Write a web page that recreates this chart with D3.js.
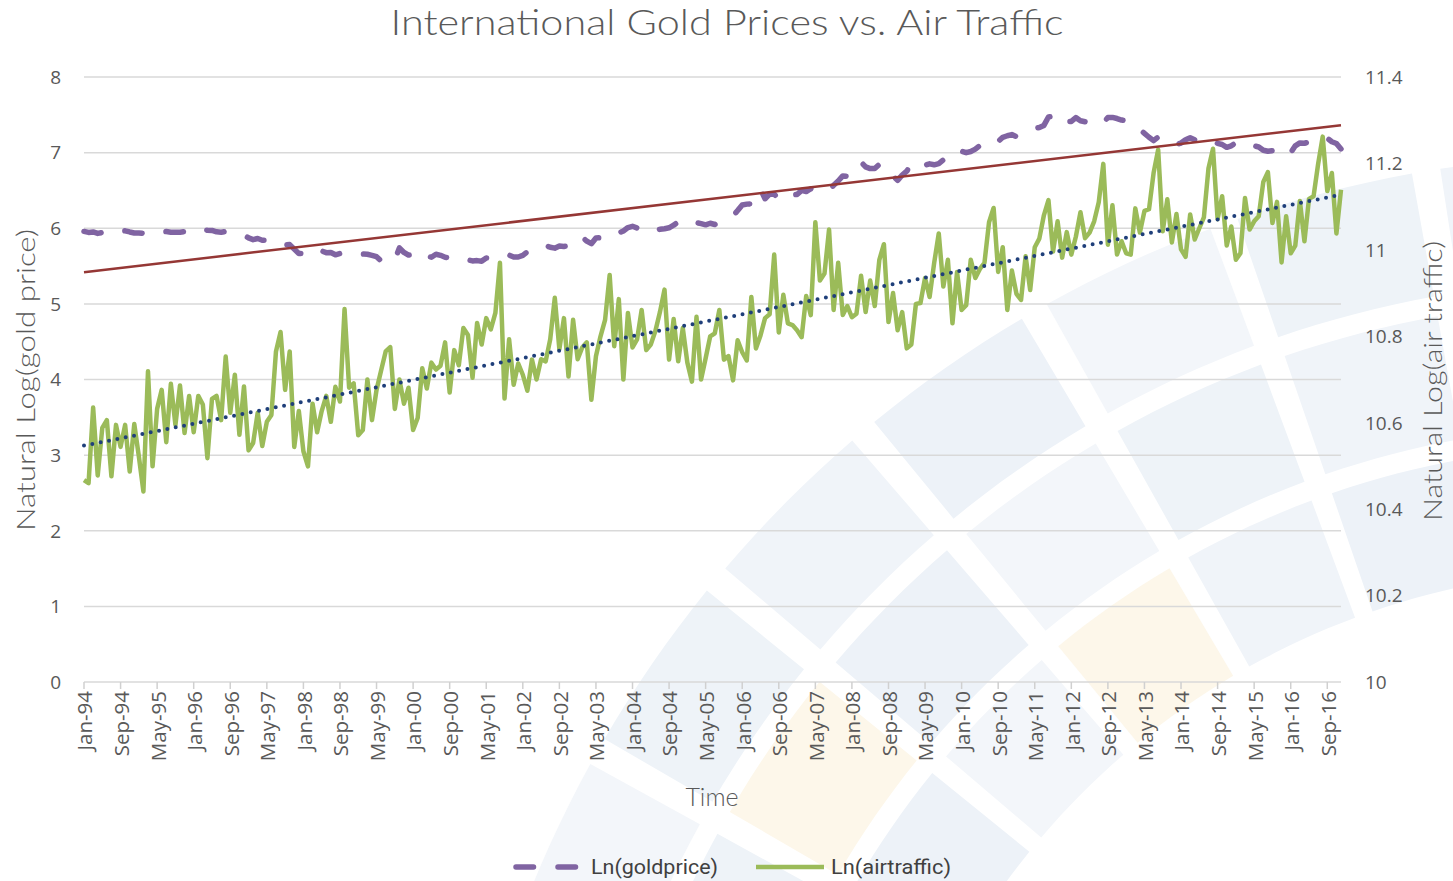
<!DOCTYPE html>
<html><head><meta charset="utf-8">
<script src="https://cdn.jsdelivr.net/npm/d3@7"></script>
<style>body{margin:0;background:#fff} svg{display:block}</style>
</head><body>
<svg id="c" width="1453" height="881"></svg>
<script>
// ---- data ----
const startYear = 1994;
const goldLn = [
5.958,5.945,5.951,5.932,5.943,5.956,5.953,5.940,5.969,5.966,5.951,5.938,
5.938,5.932,5.945,5.969,5.953,5.958,5.956,5.948,5.948,5.948,5.956,5.958,
5.991,6.004,5.981,5.974,5.971,5.953,5.948,5.958,5.948,5.943,5.935,5.911,
5.872,5.849,5.864,5.841,5.841,5.832,5.781,5.781,5.778,5.784,5.724,5.666,
5.666,5.694,5.690,5.733,5.700,5.677,5.680,5.649,5.666,5.690,5.684,5.673,
5.659,5.659,5.656,5.642,5.624,5.568,5.545,5.549,5.580,5.740,5.680,5.645,
5.652,5.704,5.656,5.635,5.617,5.656,5.642,5.617,5.609,5.598,5.583,5.606,
5.583,5.568,5.572,5.565,5.606,5.598,5.591,5.609,5.645,5.645,5.620,5.620,
5.642,5.690,5.684,5.710,5.749,5.771,5.749,5.737,5.765,5.759,5.765,5.808,
5.878,5.883,5.829,5.796,5.872,5.875,5.861,5.886,5.938,5.938,5.964,6.009,
6.026,6.004,6.006,6.001,5.951,5.971,5.986,5.994,6.006,6.040,6.084,6.091,
6.050,6.047,6.073,6.061,6.045,6.066,6.050,6.082,6.125,6.153,6.165,6.234,
6.308,6.319,6.323,6.413,6.516,6.390,6.452,6.449,6.395,6.373,6.443,6.444,
6.447,6.500,6.485,6.522,6.504,6.485,6.500,6.500,6.569,6.625,6.692,6.688,
6.790,6.827,6.875,6.812,6.789,6.790,6.845,6.732,6.721,6.692,6.633,6.704,
6.755,6.849,6.829,6.791,6.833,6.852,6.839,6.855,6.904,6.950,7.027,7.034,
7.019,6.999,7.015,7.046,7.094,7.116,7.084,7.102,7.148,7.203,7.223,7.238,
7.212,7.224,7.261,7.295,7.320,7.332,7.360,7.471,7.480,7.418,7.461,7.410,
7.412,7.463,7.422,7.409,7.368,7.375,7.374,7.394,7.464,7.466,7.451,7.431,
7.421,7.394,7.373,7.304,7.254,7.203,7.159,7.206,7.207,7.182,7.151,7.107,
7.126,7.170,7.197,7.169,7.160,7.154,7.179,7.167,7.122,7.108,7.070,7.090,
7.132,7.112,7.072,7.088,7.089,7.075,7.031,7.018,7.026,7.055,6.990,6.974,
7.000,7.090,7.128,7.124,7.139,7.151,7.198,7.201,7.190,7.144,7.121,7.049
];
const airLn = [
10.467,10.460,10.635,10.478,10.588,10.606,10.476,10.595,10.544,10.595,10.487,10.597,
10.522,10.441,10.719,10.499,10.632,10.676,10.555,10.690,10.595,10.686,10.576,10.662,
10.578,10.662,10.642,10.518,10.655,10.662,10.606,10.753,10.623,10.711,10.572,10.684,
10.536,10.553,10.623,10.546,10.602,10.618,10.765,10.810,10.676,10.765,10.544,10.627,
10.534,10.499,10.644,10.578,10.627,10.662,10.602,10.683,10.649,10.863,10.681,10.691,
10.571,10.583,10.700,10.606,10.676,10.721,10.765,10.775,10.632,10.700,10.644,10.681,
10.583,10.611,10.726,10.679,10.739,10.723,10.732,10.786,10.670,10.768,10.733,10.819,
10.803,10.704,10.831,10.781,10.842,10.816,10.854,10.970,10.656,10.793,10.688,10.737,
10.711,10.674,10.746,10.700,10.747,10.742,10.793,10.889,10.770,10.842,10.707,10.838,
10.747,10.774,10.786,10.653,10.754,10.800,10.838,10.942,10.777,10.886,10.700,10.854,
10.774,10.793,10.861,10.768,10.781,10.812,10.856,10.908,10.746,10.840,10.742,10.819,
10.739,10.695,10.845,10.700,10.749,10.800,10.807,10.861,10.746,10.754,10.698,10.791,
10.763,10.744,10.891,10.772,10.802,10.842,10.851,10.989,10.809,10.896,10.830,10.826,
10.814,10.798,10.893,10.849,11.064,10.929,10.945,11.047,10.861,10.970,10.849,10.870,
10.844,10.852,10.940,10.856,10.929,10.870,10.977,11.013,10.833,10.900,10.814,10.856,
10.772,10.781,10.875,10.877,10.935,10.891,10.970,11.038,10.915,10.977,10.830,10.949,
10.861,10.872,10.977,10.935,10.956,10.970,11.064,11.097,10.949,11.006,10.861,10.952,
10.898,10.884,10.985,10.907,11.006,11.026,11.080,11.115,10.996,11.066,10.982,11.041,
10.989,11.031,11.087,11.027,11.040,11.066,11.110,11.199,11.012,11.103,10.989,11.020,
10.992,10.989,11.096,11.040,11.090,11.094,11.178,11.232,11.043,11.117,11.017,11.083,
11.001,10.984,11.082,11.024,11.050,11.075,11.188,11.234,11.071,11.124,11.010,11.054,
10.977,10.992,11.120,11.047,11.066,11.078,11.157,11.180,11.062,11.111,10.971,11.078,
10.992,11.010,11.113,11.020,11.118,11.124,11.199,11.262,11.136,11.178,11.038,11.139
];
const xTickLabels = ["Jan-94","Sep-94","May-95","Jan-96","Sep-96","May-97","Jan-98","Sep-98","May-99",
"Jan-00","Sep-00","May-01","Jan-02","Sep-02","May-03","Jan-04","Sep-04","May-05","Jan-06","Sep-06",
"May-07","Jan-08","Sep-08","May-09","Jan-10","Sep-10","May-11","Jan-12","Sep-12","May-13","Jan-14",
"Sep-14","May-15","Jan-16","Sep-16"];
const tickEvery = 8;
const leftTicks = [0,1,2,3,4,5,6,7,8];
const rightTicks = [10,10.2,10.4,10.6,10.8,11,11.2,11.4];
const seriesNames = ["Ln(goldprice)","Ln(airtraffic)"];
const titleText = "International Gold Prices vs. Air Traffic";
const leftTitle = "Natural Log(gold price)";
const rightTitle = "Natural Log(air traffic)";
const xTitle = "Time";

// ---- layout ----
const L = 84, R = 1341, T = 77, B = 682;
const svg = d3.select("#c");
const months = d3.timeMonth.range(new Date(startYear,0,1), new Date(startYear,goldLn.length,1));
const idx = months.map((d,i)=>i);

const x = d3.scaleLinear().domain([0, months.length-1]).range([L, R]);
const yL = d3.scaleLinear().domain([0,8]).range([B, T]);
const yR = d3.scaleLinear().domain([10,11.4]).range([B, T]);

// ---- watermark (decorative background) ----
const wm = svg.append("g");
const cx0 = 1620, cy0 = 1330;
const rings = [[760,885],[905,1030],[1050,1175]];
const a0 = 200, aStep = 10.2, aW = 8.8, nA = 7;
const fills = ["#f0f4f9","#edf2f8","#f3f6fa","#eef3f8"];
const yellow = "#fdf7ea";
rings.forEach((rg, ri) => {
  for (let k = 0; k < nA; k++) {
    const aa = (a0 + k*aStep) * Math.PI/180, ab = (a0 + k*aStep + aW) * Math.PI/180;
    const pts = [];
    const steps = 8;
    for (let s=0;s<=steps;s++){const a=aa+(ab-aa)*s/steps; pts.push([cx0+rg[0]*Math.cos(a), cy0+rg[0]*Math.sin(a)]);}
    for (let s=steps;s>=0;s--){const a=aa+(ab-aa)*s/steps; pts.push([cx0+rg[1]*Math.cos(a), cy0+rg[1]*Math.sin(a)]);}
    const isY = (ri===1 && k===1) || (ri===0 && k===3) || (ri===1 && k===6);
    wm.append("path").attr("d", d3.line()(pts)+"Z")
      .attr("fill", isY ? yellow : fills[(ri*3+k)%4]);
  }
});

// ---- gridlines ----
svg.append("g").selectAll("line").data(leftTicks).join("line")
  .attr("x1", L).attr("x2", R)
  .attr("y1", d=>yL(d)).attr("y2", d=>yL(d))
  .attr("stroke", "#d9d9d9").attr("stroke-width", 1.5);

// ---- x axis ticks ----
const xt = svg.append("g");
xTickLabels.forEach((lab,i)=>{
  const xi = x(i*tickEvery);
  xt.append("line").attr("x1",xi).attr("x2",xi).attr("y1",B).attr("y2",B+7)
    .attr("stroke","#d0d0d0").attr("stroke-width",1.5);
  xt.append("text").attr("transform",`translate(${xi+1},${B+9}) rotate(-90)`)
    .attr("text-anchor","end").attr("dy","0.36em")
    .attr("font-family","'Open Sans', sans-serif").attr("font-size",20.5)
    .attr("fill","#595959").text(lab);
});

// ---- y tick labels ----
svg.append("g").selectAll("text").data(leftTicks).join("text")
  .attr("x", 61).attr("y", d=>yL(d)).attr("dy","0.36em").attr("text-anchor","end")
  .attr("font-family","'Open Sans', sans-serif").attr("font-size",19).attr("fill","#595959")
  .text(d=>d);
svg.append("g").selectAll("text").data(rightTicks).join("text")
  .attr("x", 1365).attr("y", d=>yR(d)).attr("dy","0.36em").attr("text-anchor","start")
  .attr("font-family","'Open Sans', sans-serif").attr("font-size",19).attr("fill","#595959")
  .text(d=>d3.format("~g")(d));

// ---- trend lines (least squares) ----
function fit(vals){
  const mx = d3.mean(idx), my = d3.mean(vals);
  let sxy=0,sxx=0; vals.forEach((v,i)=>{sxy+=(i-mx)*(v-my); sxx+=(i-mx)*(i-mx);});
  const b = sxy/sxx, a = my - b*mx;
  return i => a + b*i;
}
const gFit = fit(goldLn), aFit = fit(airLn);

// ---- series ----
const lineG = d3.line().x((d,i)=>x(i)).y(d=>yL(d));
const lineA = d3.line().x((d,i)=>x(i)).y(d=>yR(d));

svg.append("path").datum(airLn).attr("d", lineA).attr("fill","none")
  .attr("stroke","#9bbb59").attr("stroke-width",4.5).attr("stroke-linejoin","round");

svg.append("path").datum(goldLn).attr("d", lineG).attr("fill","none")
  .attr("stroke","#8064a2").attr("stroke-width",5.5).attr("stroke-linecap","round")
  .attr("stroke-linejoin","round").attr("stroke-dasharray","17.5 24.5");

svg.append("line").attr("x1",x(0)).attr("x2",x(idx.length-1))
  .attr("y1",yL(gFit(0))).attr("y2",yL(gFit(idx.length-1)))
  .attr("stroke","#953735").attr("stroke-width",2.5);

svg.append("line").attr("x1",x(0)).attr("x2",x(idx.length-1))
  .attr("y1",yR(aFit(0))).attr("y2",yR(aFit(idx.length-1)))
  .attr("stroke","#1f3f7a").attr("stroke-width",4).attr("stroke-linecap","round")
  .attr("stroke-dasharray","0 8.5");

// ---- titles ----
svg.append("text").attr("x",727).attr("y",35).attr("text-anchor","middle")
  .attr("font-family","Lato, 'Open Sans', sans-serif").attr("font-weight",300).attr("font-size",35)
  .attr("fill","#595959").attr("textLength",673).attr("lengthAdjust","spacingAndGlyphs").text(titleText);
svg.append("text").attr("transform","translate(35,380) rotate(-90)").attr("text-anchor","middle")
  .attr("font-family","Lato, 'Open Sans', sans-serif").attr("font-weight",300).attr("font-size",25)
  .attr("fill","#595959").attr("textLength",302).attr("lengthAdjust","spacingAndGlyphs").text(leftTitle);
svg.append("text").attr("transform","translate(1442,381) rotate(-90)").attr("text-anchor","middle")
  .attr("font-family","Lato, 'Open Sans', sans-serif").attr("font-weight",300).attr("font-size",25)
  .attr("fill","#595959").attr("textLength",280).attr("lengthAdjust","spacingAndGlyphs").text(rightTitle);
svg.append("text").attr("x",712).attr("y",806).attr("text-anchor","middle")
  .attr("font-family","Lato, 'Open Sans', sans-serif").attr("font-weight",300).attr("font-size",25)
  .attr("fill","#595959").text(xTitle);

// ---- legend ----
const lg = svg.append("g");
lg.append("line").attr("x1",516).attr("x2",578).attr("y1",867).attr("y2",867)
  .attr("stroke","#8064a2").attr("stroke-width",5.5).attr("stroke-linecap","round")
  .attr("stroke-dasharray","17.5 24.5");
lg.append("text").attr("x",591).attr("y",867).attr("dy","0.35em")
  .attr("font-family","Roboto, sans-serif").attr("font-size",21).attr("fill","#404040")
  .attr("textLength",127).attr("lengthAdjust","spacingAndGlyphs").text(seriesNames[0]);
lg.append("line").attr("x1",756).attr("x2",824).attr("y1",867).attr("y2",867)
  .attr("stroke","#9bbb59").attr("stroke-width",4.5);
lg.append("text").attr("x",831).attr("y",867).attr("dy","0.35em")
  .attr("font-family","Roboto, sans-serif").attr("font-size",21).attr("fill","#404040")
  .attr("textLength",120).attr("lengthAdjust","spacingAndGlyphs").text(seriesNames[1]);
</script>
</body></html>
